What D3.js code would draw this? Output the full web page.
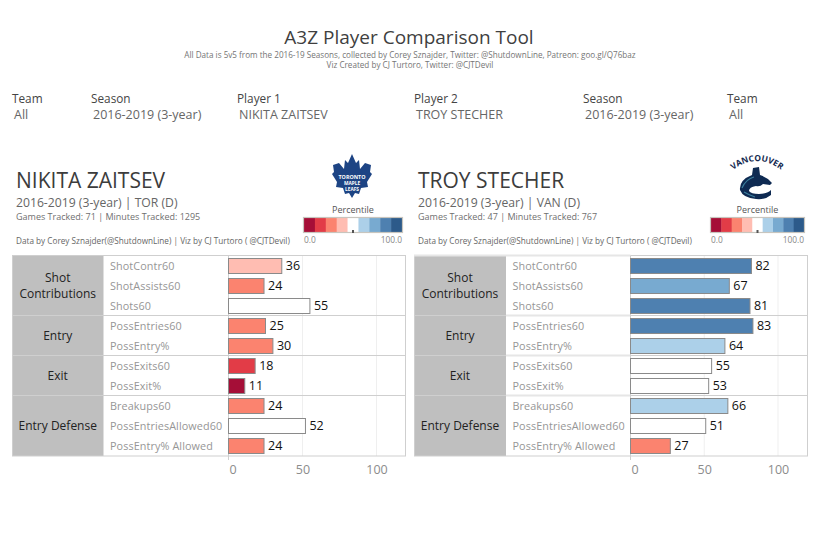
<!DOCTYPE html>
<html>
<head>
<meta charset="utf-8">
<script src="https://d3js.org/d3.v7.min.js"></script>
<style>
  html, body { margin: 0; padding: 0; background: #fff; }
  svg { display: block; }
  text { font-family: "Open Sans", sans-serif; }
</style>
</head>
<body>
<svg id="chart" width="819" height="559"></svg>
<script>
const svg = d3.select("#chart");

// Data
const metrics = ["ShotContr60", "ShotAssists60", "Shots60", "PossEntries60", "PossEntry%",
    "PossExits60", "PossExit%", "Breakups60", "PossEntriesAllowed60", "PossEntry% Allowed"];
const groups = [
    { name: ["Shot", "Contributions"], size: 3 },
    { name: ["Entry"], size: 2 },
    { name: ["Exit"], size: 2 },
    { name: ["Entry Defense"], size: 3 }
];
const zaitsevValues = [36, 24, 55, 25, 30, 18, 11, 24, 52, 24];
const stecherValues = [82, 67, 81, 83, 64, 55, 53, 66, 51, 27];
const percentileColors = ["#a50e37", "#e23c47", "#fb836f", "#ffbdb2", "#ffffff", "#acd0e9", "#78aad0", "#4e80b0", "#2c5a8a"];
const axisTicks = [0, 50, 100];
const legendEnds = ["0.0", "100.0"];
const filters = [
    { head: "Team", value: "All", x: 12 },
    { head: "Season", value: "2016-2019 (3-year)", x: 91 },
    { head: "Player 1", value: "NIKITA ZAITSEV", x: 237 },
    { head: "Player 2", value: "TROY STECHER", x: 414 },
    { head: "Season", value: "2016-2019 (3-year)", x: 583 },
    { head: "Team", value: "All", x: 727 }
];

const color = d3.scaleQuantize().domain([0, 100]).range(percentileColors);

function label(g, x, y, str, size, fill, anchor) {
    return g.append("text")
        .attr("x", x)
        .attr("y", y)
        .attr("font-size", size)
        .attr("fill", fill)
        .attr("text-anchor", anchor || "start")
        .text(str);
}

// Title block
label(svg, 409, 44, "A3Z Player Comparison Tool", 19, "#3f3f3f", "middle");
label(svg, 410, 58, "All Data is 5v5 from the 2016-19 Seasons, collected by Corey Sznajder, Twitter: @ShutdownLine, Patreon: goo.gl/Q76baz", 8.15, "#757575", "middle");
label(svg, 410, 68, "Viz Created by CJ Turtoro, Twitter: @CJTDevil", 8.15, "#757575", "middle");

// Filter row
filters.forEach(f => {
    label(svg, f.x, 103, f.head, 11.8, "#444");
    label(svg, f.x + 2, 119, f.value, 12.5, "#666");
});

function drawPanel(p) {
    const g = svg.append("g");

    // Header
    label(g, p.left + 4, 188, p.player, 21, "#3c3c3c");
    label(g, p.left + 4, 207, p.sub, 12.2, "#666");
    label(g, p.left + 4, 220, p.tracked, 9, "#6f6f6f");
    label(g, p.left + 4, 244, "Data by Corey Sznajder(@ShutdownLine) | Viz by CJ Turtoro ( @CJTDevil)", 8.2, "#666");

    // Percentile legend
    const legendX = d3.scaleBand().domain(d3.range(percentileColors.length)).range([p.legend[0], p.legend[1]]);
    label(g, (p.legend[0] + p.legend[1]) / 2, 213, "Percentile", 9, "#555", "middle");
    g.selectAll(".swatch").data(percentileColors).enter().append("rect")
        .attr("class", "swatch")
        .attr("x", (d, i) => legendX(i))
        .attr("y", 218)
        .attr("width", legendX.bandwidth() + 0.4)
        .attr("height", 14)
        .attr("fill", d => d);
    g.append("rect")
        .attr("x", p.legend[0] - 0.5)
        .attr("y", 217.5)
        .attr("width", p.legend[1] - p.legend[0] + 1)
        .attr("height", 15)
        .attr("fill", "none")
        .attr("stroke", "#c8c5be")
        .attr("stroke-width", 1.2);
    const legendScale = d3.scaleLinear().domain([0, 100]).range(p.legend);
    g.append("rect")
        .attr("x", legendScale(50) - 1)
        .attr("y", 230)
        .attr("width", 2)
        .attr("height", 3)
        .attr("fill", "#555");
    label(g, p.legend[0], 243, legendEnds[0], 8.4, "#888");
    label(g, p.legend[1], 243, legendEnds[1], 8.4, "#888", "end");

    // Scales
    const x = d3.scaleLinear().domain([0, 100]).range([p.zero, p.hundred]);
    const y = d3.scaleBand().domain(metrics).range([256, 456]);
    const bottom = 456;

    // Group cells
    let start = 0;
    const rows = [];
    groups.forEach(grp => {
        rows.push({ grp, y0: y(metrics[start]), y1: y(metrics[start + grp.size - 1]) + y.bandwidth() });
        start += grp.size;
    });
    g.selectAll(".group").data(rows).enter().append("rect")
        .attr("class", "group")
        .attr("x", p.left)
        .attr("y", d => d.y0)
        .attr("width", p.labelX - p.left)
        .attr("height", d => d.y1 - d.y0)
        .attr("fill", "#bfbfbf");
    rows.forEach(r => {
        const cx = (p.left + p.labelX) / 2;
        const cy = (r.y0 + r.y1) / 2;
        r.grp.name.forEach((line, i) => {
            const off = (i - (r.grp.name.length - 1) / 2) * 16;
            label(g, cx, cy + off + 4, line, 12, "#222", "middle");
        });
    });

    // Grid
    g.selectAll(".grid").data(axisTicks.slice(1)).enter().append("line")
        .attr("class", "grid")
        .attr("x1", d => x(d)).attr("x2", d => x(d))
        .attr("y1", 256).attr("y2", bottom)
        .attr("stroke", "#efefef");

    // Separators and frame
    const lineCol = "#cfcfcf";
    rows.slice(1).forEach(r => {
        g.append("line")
            .attr("x1", p.left).attr("x2", p.right)
            .attr("y1", r.y0 - 0.5).attr("y2", r.y0 - 0.5)
            .attr("stroke", lineCol);
        if (p.thickLabels) {
            g.append("line")
                .attr("x1", p.labelX).attr("x2", p.zero)
                .attr("y1", r.y0 - 0.5).attr("y2", r.y0 - 0.5)
                .attr("stroke", "#e6e6e6").attr("stroke-width", 2);
        }
    });
    g.append("rect")
        .attr("x", p.left + 0.5).attr("y", 255.5)
        .attr("width", p.right - p.left).attr("height", bottom - 255.5)
        .attr("fill", "none").attr("stroke", lineCol);
    if (p.thickLabels) {
        g.append("line")
            .attr("x1", p.left).attr("x2", p.zero)
            .attr("y1", 255.5).attr("y2", 255.5)
            .attr("stroke", "#e6e6e6").attr("stroke-width", 2);
    }
    g.append("line")
        .attr("x1", p.zero).attr("x2", p.zero)
        .attr("y1", 256).attr("y2", bottom + 4)
        .attr("stroke", lineCol);

    // Metric labels
    g.selectAll(".metric").data(metrics).enter().append("text")
        .attr("class", "metric")
        .attr("x", p.labelX + 6.5)
        .attr("y", d => y(d) + y.bandwidth() / 2 + 3.5)
        .attr("font-size", 10.8)
        .attr("letter-spacing", 0.1)
        .attr("fill", "#969696")
        .text(d => d);

    // Bars
    g.selectAll(".bar").data(p.values).enter().append("rect")
        .attr("class", "bar")
        .attr("x", x(0))
        .attr("y", (d, i) => y(metrics[i]) + 2.5)
        .attr("width", d => x(d) - x(0))
        .attr("height", y.bandwidth() - 5)
        .attr("fill", d => color(d))
        .attr("stroke", "#8a8a8a")
        .attr("stroke-width", 1);

    // Value labels
    g.selectAll(".val").data(p.values).enter().append("text")
        .attr("class", "val")
        .attr("x", d => x(d) + 4)
        .attr("y", (d, i) => y(metrics[i]) + y.bandwidth() / 2 + 4)
        .attr("font-family", "DejaVu Sans")
        .attr("font-size", 12.5)
        .attr("fill", "#111")
        .text(d => d);

    // Axis
    const axis = g.append("g")
        .attr("transform", `translate(0,${bottom + 3})`)
        .call(d3.axisBottom(x).tickValues(axisTicks).tickSize(0).tickPadding(6));
    axis.select(".domain").remove();
    axis.selectAll("text")
        .attr("font-family", "Open Sans")
        .attr("font-size", 12.5)
        .attr("fill", "#8c8c8c")
        .attr("dx", d => d === 0 ? 4 : 0);

    p.logo(g);
}

// Simplified team marks
function leafsLogo(g) {
    const pts = [[0, -22], [4, -13], [7, -16], [8, -7], [13, -13], [19, -11], [18, -4], [20, -2],
        [15, 6], [16, 11], [9, 12], [7, 18], [3, 17], [0, 22],
        [-3, 17], [-7, 18], [-9, 12], [-16, 11], [-15, 6], [-20, -2], [-18, -4], [-19, -11],
        [-13, -13], [-8, -7], [-7, -16], [-4, -13]];
    const leaf = g.append("g").attr("transform", "translate(352,176)");
    leaf.append("path")
        .attr("d", d3.line().curve(d3.curveLinearClosed)(pts))
        .attr("fill", "#1d4484");
    [["TORONTO", 3, 5.4], ["MAPLE", 9, 4.8], ["LEAFS", 15, 4.8]].forEach(t => {
        leaf.append("text")
            .attr("y", t[1])
            .attr("text-anchor", "middle")
            .attr("font-size", t[2])
            .attr("font-weight", 700)
            .attr("fill", "#fff")
            .text(t[0]);
    });
}

function canucksLogo(g) {
    const logo = g.append("g").attr("transform", "translate(757,184)");
    svg.append("defs").append("path")
        .attr("id", "vanArc")
        .attr("d", "M-24,-14 Q0,-32 24,-14");
    logo.append("text")
        .attr("font-size", 8.4)
        .attr("font-weight", 700)
        .attr("fill", "#13294f")
        .attr("text-anchor", "middle")
        .append("textPath")
        .attr("href", "#vanArc")
        .attr("startOffset", "50%")
        .text("VANCOUVER");
    // orca body as a C
    logo.append("path")
        .attr("d", "M-4,-16 L2,-17 L3,-9 Q10,-7 15,-1 L13,1 L6,0 Q3,3 -1,2 Q-8,3 -8,7 Q-6,10 2,10 Q10,10 14,6 L14,11 Q8,16 -1,15 Q-14,14 -17,6 Q-18,-4 -5,-9 Z")
        .attr("fill", "#0e2a52");
    logo.append("path")
        .attr("d", "M-15,4 Q-11,-5 -3,-7 M-13,8 Q-8,11 -2,13")
        .attr("fill", "none")
        .attr("stroke", "#3b7d9c")
        .attr("stroke-width", 1.2);
}

drawPanel({
    player: "NIKITA ZAITSEV",
    sub: "2016-2019 (3-year) | TOR (D)",
    tracked: "Games Tracked: 71  | Minutes Tracked: 1295",
    values: zaitsevValues,
    left: 12, labelX: 103.5, zero: 228.5, hundred: 376.5, right: 405,
    legend: [304, 402],
    logo: leafsLogo
});

drawPanel({
    player: "TROY STECHER",
    sub: "2016-2019 (3-year) | VAN (D)",
    tracked: "Games Tracked: 47  | Minutes Tracked: 767",
    values: stecherValues,
    left: 414, labelX: 506, zero: 630.5, hundred: 778, right: 807,
    legend: [711, 804],
    thickLabels: true,
    logo: canucksLogo
});
</script>
</body>
</html>
